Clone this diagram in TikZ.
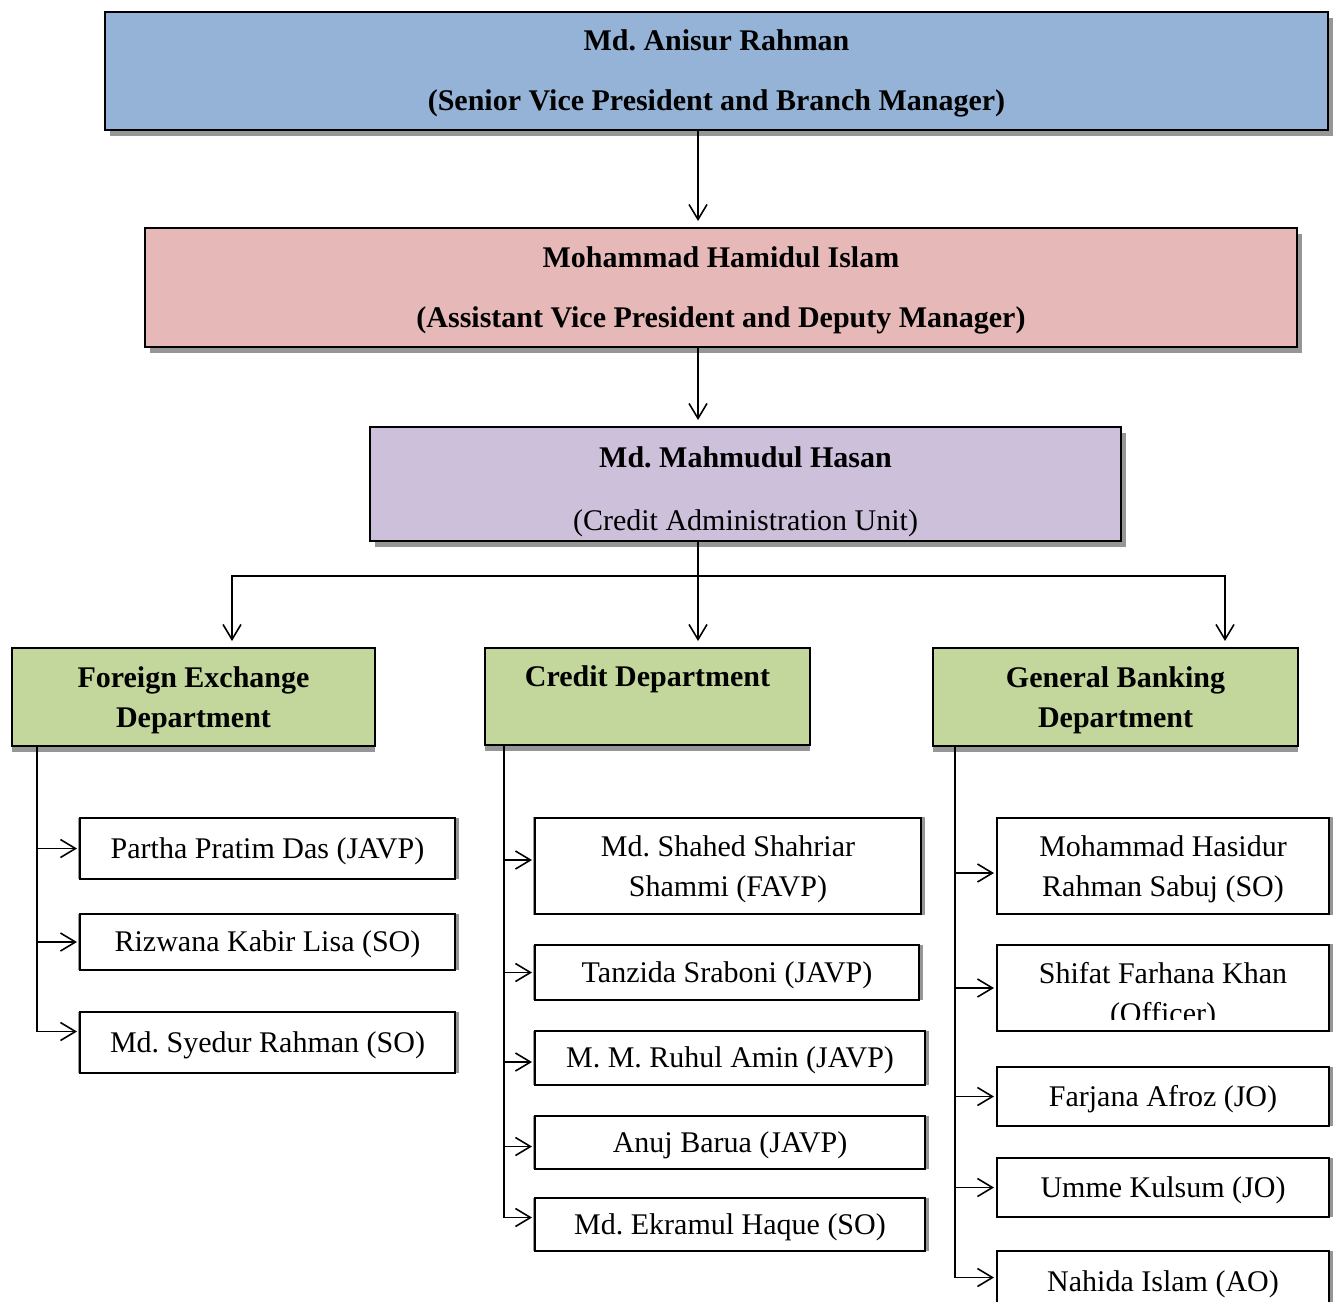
\documentclass[tikz,border=0pt]{standalone}
\usepackage{fontspec}
\setmainfont{Liberation Serif}
\frenchspacing
\usetikzlibrary{arrows.meta,shadows}
\definecolor{headBlue}{RGB}{149,179,215}
\definecolor{headPink}{RGB}{230,185,184}
\definecolor{headLilac}{RGB}{204,192,218}
\definecolor{deptGreen}{RGB}{195,214,155}
\definecolor{shadeGray}{RGB}{150,150,150}
\tikzset{
  lowered/.style={execute at begin node={\rule{0pt}{#1}}},
  headbox/.style={draw, line width=1pt, align=center, inner sep=0pt, text depth=0pt,
    font=\fontsize{15pt}{30pt}\selectfont\bfseries,
    drop shadow={shadow xshift=2.5pt, shadow yshift=-3pt, fill=shadeGray, opacity=1}},
  deptbox/.style={draw, line width=1pt, align=center, inner sep=0pt, fill=deptGreen, text depth=0pt,
    font=\fontsize{15pt}{20pt}\selectfont\bfseries,
    general shadow={shadow yshift=-3pt, fill=shadeGray, opacity=1}},
  staffbox/.style={draw, line width=1pt, align=center, inner sep=0pt, fill=white, lowered=13pt,
    font=\fontsize{15pt}{20pt}\selectfont,
    general shadow={shadow xshift=0.5pt, shadow scale=1.015, fill=shadeGray, opacity=1}},
  link/.style={line width=0.8pt},
  arr/.style={link, -{Straight Barb[length=7.5pt,width=9pt]}}
}
\begin{document}
\begin{tikzpicture}[x=0.5pt,y=-0.5pt]
\path[use as bounding box,fill=white] (0,0) rectangle (1336,1301);

% managers
\node[headbox,fill=headBlue,minimum width=611.5pt,minimum height=59pt,text depth=0.5pt] (bm) at (716.5,71)
  {Md. Anisur Rahman\\(Senior Vice President and Branch Manager)};
\node[headbox,fill=headPink,minimum width=576pt,minimum height=59.5pt,text depth=0.5pt] (dm) at (721,287.5)
  {Mohammad Hamidul Islam\\(Assistant Vice President and Deputy Manager)};
\node[headbox,fill=headLilac,minimum width=375.5pt,minimum height=57pt,
  font=\fontsize{15pt}{31.5pt}\selectfont\bfseries] (cau) at (745.5,484)
  {\rule{0pt}{14.5pt}Md. Mahmudul Hasan\\\mdseries(Credit Administration Unit)};

% departments
\node[deptbox,minimum width=181.5pt,minimum height=49pt] (fx) at (193.5,697)
  {Foreign Exchange\\Department};
\node[deptbox,minimum width=162.5pt,minimum height=48.5pt] (cr) at (647.5,696.5)
  {Credit Department\\\phantom{D}};
\node[deptbox,minimum width=182.5pt,minimum height=49pt] (gb) at (1115.5,697)
  {General Banking\\Department};

% foreign exchange staff
\node[staffbox,minimum width=187.5pt,minimum height=30.5pt] (fx1) at (267.5,848.5) {Partha Pratim Das (JAVP)};
\node[staffbox,minimum width=187.5pt,minimum height=28pt] (fx2) at (267.5,942) {Rizwana Kabir Lisa (SO)};
\node[staffbox,minimum width=187.5pt,minimum height=30.5pt] (fx3) at (267.5,1042.5) {Md. Syedur Rahman (SO)};

% credit staff
\node[staffbox,minimum width=193pt,minimum height=48pt,text depth=-0.5pt] (cr1) at (728,866) {Md. Shahed Shahriar\\Shammi (FAVP)};
\node[staffbox,minimum width=192pt,minimum height=27.5pt] (cr2) at (727,972.5) {Tanzida Sraboni (JAVP)};
\node[staffbox,minimum width=195pt,minimum height=27pt] (cr3) at (730,1058) {M. M. Ruhul Amin (JAVP)};
\node[staffbox,minimum width=195pt,minimum height=26.5pt] (cr4) at (730,1142.5) {Anuj Barua (JAVP)};
\node[staffbox,minimum width=195pt,minimum height=26.5pt] (cr5) at (730,1224.5) {Md. Ekramul Haque (SO)};

% general banking staff
\node[staffbox,minimum width=166pt,minimum height=48pt,text depth=-0.5pt] (gb1) at (1163,866) {Mohammad Hasidur\\Rahman Sabuj (SO)};
\node[staffbox,minimum width=166pt,minimum height=43pt,
  path picture={
    \clip ([yshift=6pt]path picture bounding box.south west) rectangle (path picture bounding box.north east);
    \node[align=center,inner sep=0pt] (gb2text) at ([yshift=-4pt]path picture bounding box.center)
      {Shifat Farhana Khan\\(Officer)};
  }] (gb2) at (1163,988) {};
\node[staffbox,minimum width=166pt,minimum height=29.5pt] (gb3) at (1163,1096.5) {Farjana Afroz (JO)};
\node[staffbox,minimum width=166pt,minimum height=29.5pt] (gb4) at (1163,1187.5) {Umme Kulsum (JO)};
\node[staffbox,minimum width=166pt,minimum height=34.5pt,text depth=7pt] (gb5) at (1163,1285.5) {Nahida Islam (AO)};

% chain of command
\coordinate (spine) at (698,0);
\coordinate (bar) at (698,576);
\coordinate (fxdrop) at (232,576);
\coordinate (gbdrop) at (1225,576);
\draw[arr,shorten >=3pt] (bm.south -| spine) -- (dm.north -| spine);
\draw[arr,shorten >=3pt] (dm.south -| spine) -- (cau.north -| spine);
\draw[link] (cau.south -| spine) -- (bar);
\draw[arr,shorten >=3pt] (bar) -| (fx.north -| fxdrop);
\draw[arr,shorten >=3pt] (bar) -- (cr.north -| bar);
\draw[arr,shorten >=3pt] (bar) -| (gb.north -| gbdrop);

% staff links
\coordinate (fxtrunk) at (37,0);
\coordinate (crtrunk) at (504,0);
\coordinate (gbtrunk) at (955,0);
\draw[arr,shorten >=1pt] (fx.south -| fxtrunk) |- (fx1.west);
\draw[arr,shorten >=1pt] (fx.south -| fxtrunk) |- (fx2.west);
\draw[arr,shorten >=1pt] (fx.south -| fxtrunk) |- ([yshift=5.5pt]fx3.west);
\draw[arr,shorten >=1pt] (cr.south -| crtrunk) |- ([yshift=3pt]cr1.west);
\draw[arr,shorten >=1pt] (cr.south -| crtrunk) |- (cr2.west);
\draw[arr,shorten >=1pt] (cr.south -| crtrunk) |- ([yshift=-2pt]cr3.west);
\draw[arr,shorten >=1pt] (cr.south -| crtrunk) |- ([yshift=-2pt]cr4.west);
\draw[arr,shorten >=1pt] (cr.south -| crtrunk) |- ([yshift=3.5pt]cr5.west);
\draw[arr,shorten >=1pt] (gb.south -| gbtrunk) |- ([yshift=-3.5pt]gb1.west);
\draw[arr,shorten >=1pt] (gb.south -| gbtrunk) |- (gb2.west);
\draw[arr,shorten >=1pt] (gb.south -| gbtrunk) |- (gb3.west);
\draw[arr,shorten >=1pt] (gb.south -| gbtrunk) |- (gb4.west);
\draw[arr,shorten >=1pt] (gb.south -| gbtrunk) |- ([yshift=4pt]gb5.west);
\end{tikzpicture}
\end{document}
